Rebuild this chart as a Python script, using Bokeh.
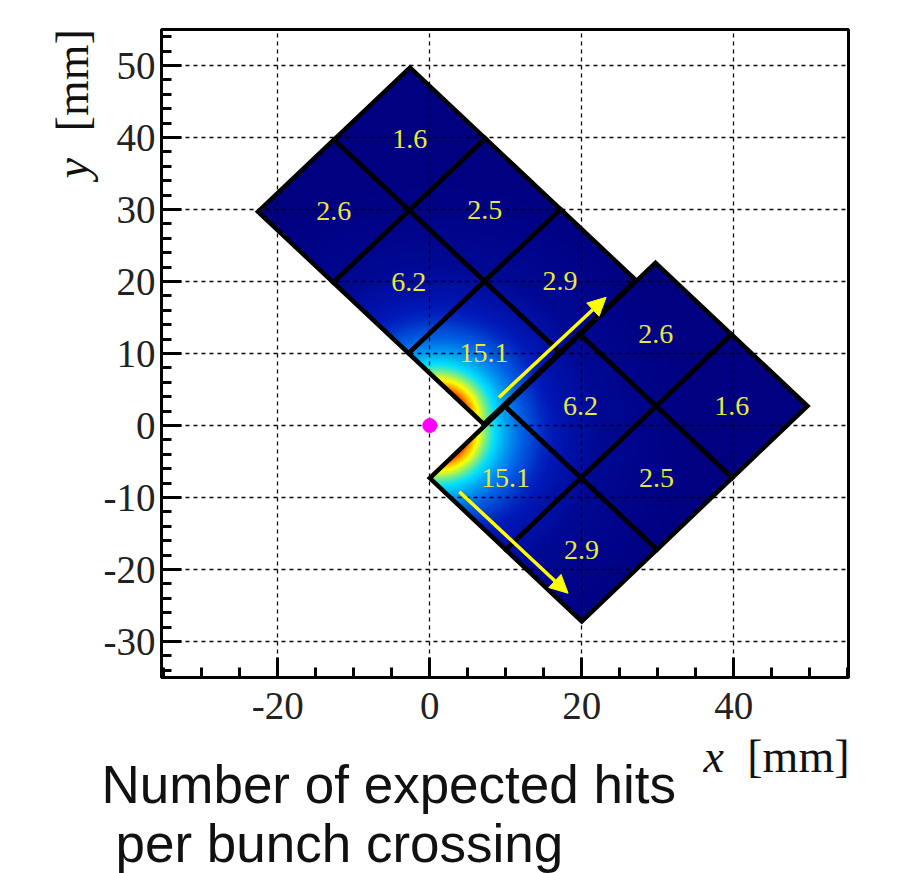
import numpy as np
from bokeh.plotting import figure
from bokeh.layouts import column, row
from bokeh.embed import file_html
from bokeh.resources import INLINE
from bokeh.models import (Range1d, FixedTicker, Arrow, NormalHead, LinearColorMapper)
from bokeh.core.properties import value

upper_hits = [["1.6", "2.6"], ["2.5", "6.2"], ["2.9", "15.1"]]
lower_hits = [["15.1", "2.9"], ["6.2", "2.5"], ["2.6", "1.6"]]

upper_origin = (-2.6, 49.7)
upper_long = (29.7, -29.5)
upper_short = (-20.0, -20.0)
lower_origin = (0.0, -7.3)
lower_long = (29.7, 29.9)
lower_short = (20.0, -19.9)

hot_upper = (1.0, 1.0)
hot_lower = (1.0, -1.0)
profile_r = [3.5, 4.5, 5.5, 6.5, 7.5, 9.0, 11.0, 14.0, 17.0, 22.0, 35.0]
profile_level = [0.9, 0.72, 0.6, 0.47, 0.36, 0.28, 0.2, 0.13, 0.085, 0.035, 0.0]

arrow_a = (9.1, 3.9, 23.2, 17.8)
arrow_b = (3.9, -9.2, 18.2, -23.3)
beam = (0.0, 0.0)

x_major = [-20, 0, 20, 40]
x_minor = [-35, -30, -25, -15, -10, -5, 5, 10, 15, 25, 30, 35, 45, 50, 55]
y_major = [-30, -20, -10, 0, 10, 20, 30, 40, 50]
y_minor = [v for v in range(-34, 55, 2) if v % 10 != 0]

jet_stops = [0, .11, .2, .36, .62, .87, 1]
jet_r = [0, 0, 0, 0, 255, 255, 128]
jet_g = [0, 25, 100, 225, 255, 0, 0]
jet_b = [128, 185, 230, 255, 0, 0, 0]
lv = np.linspace(0, 1, 256)
palette = ["#%02x%02x%02x" % (int(a), int(b), int(c)) for a, b, c in
           zip(np.interp(lv, jet_stops, jet_r), np.interp(lv, jet_stops, jet_g), np.interp(lv, jet_stops, jet_b))]

SPLIT = 731
p = figure(width=797, height=SPLIT, output_backend="svg", toolbar_location=None,
           x_range=Range1d(-35.3, 55.1), y_range=Range1d(-35.0, 55.0),
           min_border_left=61, min_border_top=29, min_border_right=49, min_border_bottom=SPLIT - 677,
           background_fill_color="white", border_fill_color="white")

xs = np.linspace(-25, 52, 770)
ys = np.linspace(-30, 52, 820)
X, Y = np.meshgrid(xs, ys)


def inside(o, l, s):
    det = l[0] * s[1] - l[1] * s[0]
    u = ((X - o[0]) * s[1] - (Y - o[1]) * s[0]) / det
    v = ((Y - o[1]) * l[0] - (X - o[0]) * l[1]) / det
    return (u >= 0) & (u <= 1) & (v >= 0) & (v <= 1)


field = np.full(X.shape, np.nan)
for o, l, s, h in [(upper_origin, upper_long, upper_short, hot_upper),
                   (lower_origin, lower_long, lower_short, hot_lower)]:
    m = inside(o, l, s)
    r = np.hypot(X - h[0], Y - h[1])
    field[m] = np.interp(r[m], profile_r, profile_level)

mapper = LinearColorMapper(palette=palette, low=0, high=1, nan_color="#ffffff00")
p.image(image=[field], x=xs[0], y=ys[0], dw=xs[-1] - xs[0], dh=ys[-1] - ys[0],
        color_mapper=mapper, level="image")

for o, l, s, hits in [(upper_origin, upper_long, upper_short, upper_hits),
                      (lower_origin, lower_long, lower_short, lower_hits)]:
    cx, cy, lx, ly, tx = [], [], [], [], []
    for i, row_hits in enumerate(hits):
        for j, t in enumerate(row_hits):
            c = [(i, j), (i + 1, j), (i + 1, j + 1), (i, j + 1)]
            cx.append([o[0] + a / 3 * l[0] + b / 2 * s[0] for a, b in c])
            cy.append([o[1] + a / 3 * l[1] + b / 2 * s[1] for a, b in c])
            lx.append(o[0] + (i + .5) / 3 * l[0] + (j + .5) / 2 * s[0])
            ly.append(o[1] + (i + .5) / 3 * l[1] + (j + .5) / 2 * s[1])
            tx.append(t)
    p.patches(cx, cy, fill_alpha=0, line_color="black", line_width=4.5, line_join="miter")
    p.text(lx, ly, text=tx, text_color="#e8e83c", text_font=value("Liberation Serif"),
           text_font_size="28px", text_align="center", text_baseline="middle")

p.scatter([beam[0]], [beam[1]], marker="circle", size=14, color="#ff00ff")

for a in (arrow_a, arrow_b):
    p.add_layout(Arrow(x_start=a[0], y_start=a[1], x_end=a[2], y_end=a[3], line_color="#ffff00", line_width=3.5,
                       end=NormalHead(size=18, fill_color="#ffff00", line_color="#ffff00")))

p.xaxis.ticker = FixedTicker(ticks=x_major, minor_ticks=x_minor)
p.yaxis.ticker = FixedTicker(ticks=y_major, minor_ticks=y_minor)
p.xaxis.major_label_overrides = {v: str(v) for v in x_major}
p.yaxis.major_label_overrides = {v: str(v) for v in y_major}
for ax in (p.xaxis[0], p.yaxis[0]):
    ax.major_tick_in = 20
    ax.major_tick_out = 0
    ax.minor_tick_in = 10
    ax.minor_tick_out = 0
    ax.major_tick_line_width = 3
    ax.minor_tick_line_width = 3
    ax.axis_line_width = 3
    ax.major_tick_line_color = "black"
    ax.minor_tick_line_color = "black"
    ax.major_label_text_font = "Liberation Serif"
    ax.major_label_text_font_size = "39px"
    ax.major_label_text_color = "#222222"
p.xaxis.major_label_standoff = 15
p.yaxis.major_label_standoff = 6
p.xgrid.ticker = FixedTicker(ticks=x_major)
p.ygrid.ticker = FixedTicker(ticks=y_major)
for g in (p.xgrid[0], p.ygrid[0]):
    g.grid_line_color = "black"
    g.grid_line_dash = "4 4"
    g.grid_line_width = 1.3
p.outline_line_color = "black"
p.outline_line_width = 3
p.outline_line_alpha = 1

SERIF = value("Liberation Serif")
SANS = value("Liberation Sans")

left = figure(width=100, height=SPLIT, output_backend="svg", toolbar_location=None,
              x_range=Range1d(0, 100), y_range=Range1d(SPLIT, 0),
              x_axis_location=None, y_axis_location=None, min_border=0, outline_line_color=None)
left.grid.visible = False
left.text([72], [168], text=["y"], angle=np.pi / 2, text_font=SERIF, text_font_style="italic",
          text_font_size="46px", text_color="#111111", text_baseline="alphabetic")
left.text([72], [115], text=["[mm]"], angle=np.pi / 2, text_font=SERIF,
          text_font_size="46px", text_color="#111111", text_baseline="alphabetic")

bottom = figure(width=897, height=873 - SPLIT, output_backend="svg", toolbar_location=None,
                x_range=Range1d(0, 897), y_range=Range1d(873, SPLIT),
                x_axis_location=None, y_axis_location=None, min_border=0, outline_line_color=None)
bottom.grid.visible = False
bottom.text([703], [756], text=["x"], text_font=SERIF, text_font_style="italic",
            text_font_size="46px", text_color="#111111", text_baseline="alphabetic")
bottom.text([849], [756], text=["[mm]"], text_font=SERIF, text_align="right",
            text_font_size="46px", text_color="#111111", text_baseline="alphabetic")
bottom.text([101], [784], text=["Number of expected hits"], text_font=SANS,
            text_font_size="53px", text_color="#111111", text_baseline="alphabetic")
bottom.text([115], [843], text=["per bunch crossing"], text_font=SANS,
            text_font_size="53px", text_color="#111111", text_baseline="alphabetic")

page = column(row(left, p, spacing=0), bottom, spacing=0)
open("out.html", "w").write(file_html(page, INLINE))
